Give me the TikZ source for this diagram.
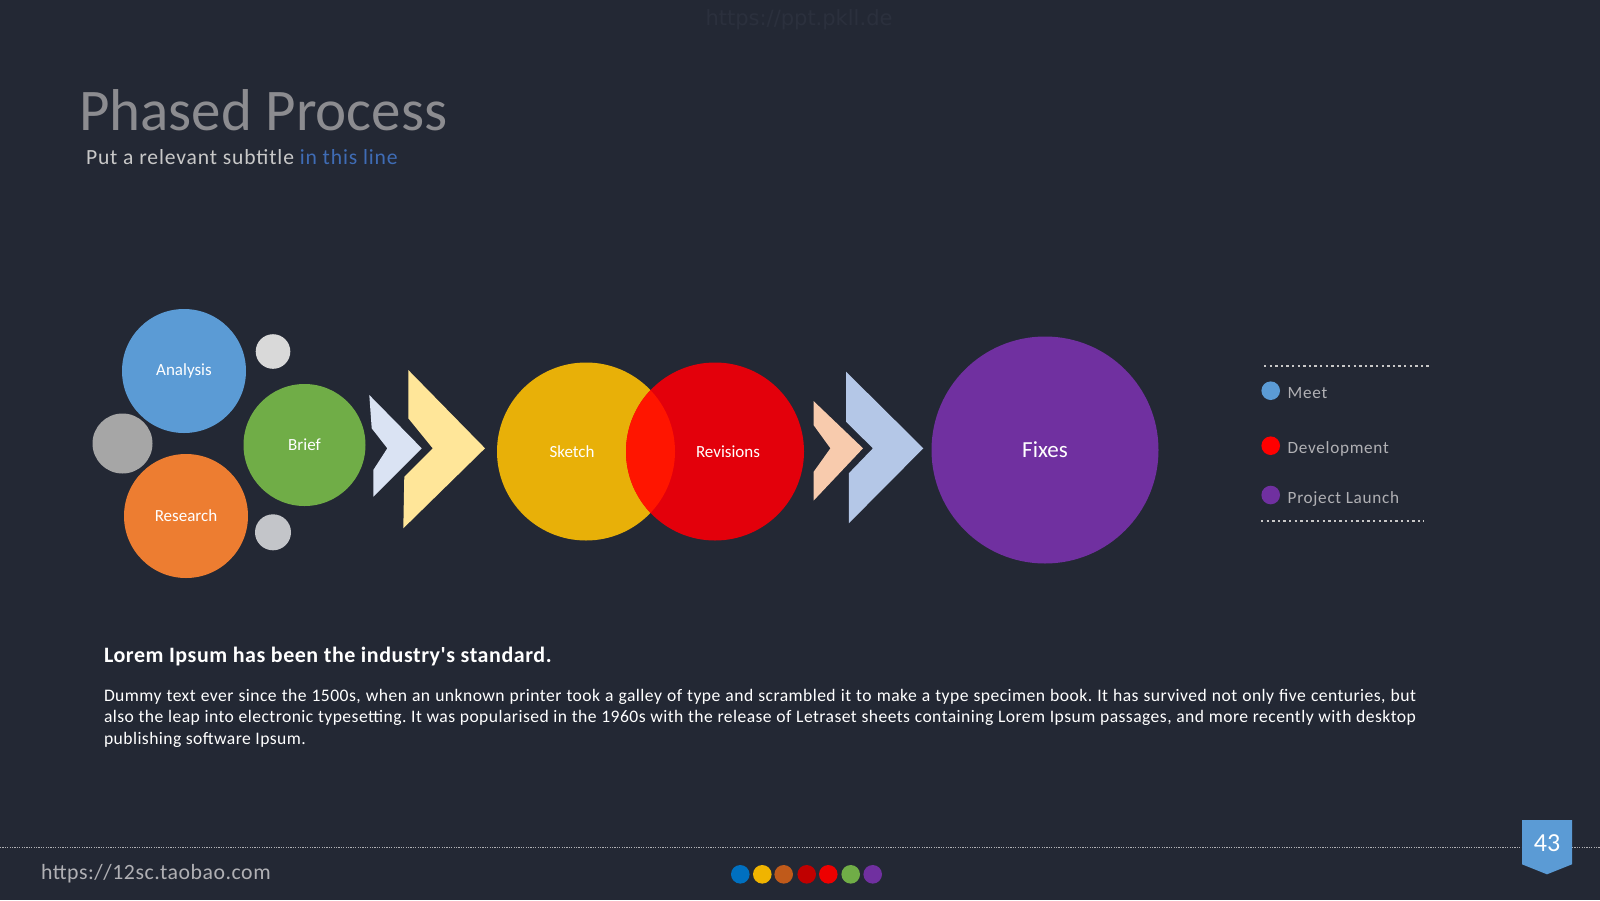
\documentclass[tikz,border=0pt]{standalone}
\usepackage{fontspec}
\setmainfont{Carlito}
\newfontfamily\wmfont{DejaVu Sans}
\newfontfamily\spacedfont[LetterSpace=4]{Carlito}
\newfontfamily\bodyfont[LetterSpace=2.5]{Carlito}
\frenchspacing
\definecolor{bg}{HTML}{232834}
\definecolor{cblue}{HTML}{5B9BD5}
\definecolor{corange}{HTML}{ED7D31}
\definecolor{cgreen}{HTML}{70AD47}
\definecolor{cgrayA}{HTML}{D9D9D9}
\definecolor{cgrayB}{HTML}{A6A6A6}
\definecolor{cgrayC}{HTML}{C3C5C9}
\definecolor{chevA}{HTML}{DAE3F3}
\definecolor{chevB}{HTML}{FFE699}
\definecolor{chevC}{HTML}{F8CBAD}
\definecolor{chevD}{HTML}{B4C7E7}
\definecolor{cyellow}{HTML}{E8B008}
\definecolor{cred}{HTML}{E3000B}
\definecolor{cover}{HTML}{FF1500}
\definecolor{cpurple}{HTML}{7030A0}
\definecolor{titlegray}{HTML}{8C8C90}
\definecolor{subgray}{HTML}{C8C8C8}
\definecolor{subblue}{HTML}{3F6CB5}
\definecolor{leggray}{HTML}{B0B0B4}
\definecolor{wmcol}{HTML}{2B303D}
\definecolor{fdA}{HTML}{0070C0}
\definecolor{fdB}{HTML}{F0B400}
\definecolor{fdC}{HTML}{C05A1A}
\definecolor{fdD}{HTML}{C00000}
\definecolor{fdE}{HTML}{EE0000}
\definecolor{fdF}{HTML}{70AD47}
\definecolor{fdG}{HTML}{7030A0}
\tikzset{
  bubble/.style={circle, inner sep=0pt, outer sep=0pt},
  bublabel/.style={text=white, font=\fontsize{8.5}{10}\selectfont},
  legdot/.style={circle, minimum size=9.3pt, inner sep=0pt},
  legtext/.style={anchor=base west, text=leggray, font=\spacedfont\fontsize{8.6}{10}\selectfont},
  legline/.style={draw=subgray, line width=1.2pt, dash pattern=on 1.2pt off 1.6pt},
  fdot/.style={circle, minimum size=9.3pt, inner sep=0pt},
  bodyline/.style={anchor=base west, text=white, font=\bodyfont\fontsize{8.8}{10}\selectfont},
}
\begin{document}
\begin{tikzpicture}[x=0.5pt,y=-0.5pt, every node/.style={inner sep=0pt, outer sep=0pt}]
\fill[bg] (0,0) rectangle (1600,900);
\useasboundingbox (0,0) rectangle (1600,900);

% watermark
\node[text=wmcol, font=\wmfont\fontsize{10.5}{12}\selectfont] (wm) at (799,20) {https://ppt.pkll.de};

% title
\node[anchor=base west, text=titlegray, font=\fontsize{29.5}{32}\selectfont] (title) at (79,130.5) {Phased Process};
\node[anchor=base west, text=subgray, font=\spacedfont\fontsize{10.8}{12}\selectfont] (subtitle) at (86,164) {Put a relevant subtitle \textcolor{subblue}{in this line}};

% left cluster
\node[bubble, fill=cblue, minimum size=62pt] (analysis) at (184,371) {};
\node[bubble, fill=corange, minimum size=62pt] (research) at (186,516) {};
\node[bubble, fill=cgreen, minimum size=61pt] (brief) at (304.5,445) {};
\node[bubble, fill=cgrayA, minimum size=17.3pt] (g1) at (273,351.5) {};
\node[bubble, fill=cgrayB, minimum size=30pt] (g2) at (122.5,443.5) {};
\node[bubble, fill=cgrayC, minimum size=18pt] (g3) at (273,532.3) {};
\node[bublabel] (analysisL) at (184,371) {Analysis};
\node[bublabel] (researchL) at (186,516) {Research};
\node[bublabel] (briefL) at (304.5,445) {Brief};

% chevrons 1
\fill[chevA] (369.3,395) -- (421.7,448.3) -- (373.3,496.7) -- (373.3,470) -- (387.3,448.3) -- (371.7,428.3) -- cycle;
\fill[chevB] (408.3,370) -- (485,448.3) -- (403.3,528.3) -- (404.3,476.7) -- (432.7,448.3) -- (408.3,418.3) -- cycle;

% sketch / revisions
\node[bubble, fill=cyellow, minimum size=89pt] (sketch) at (586,451.5) {};
\node[bubble, fill=cred, minimum size=89pt] (revisions) at (715,451.5) {};
\begin{scope}
  \clip (sketch.center) circle [radius=44.5pt];
  \fill[cover] (revisions.center) circle [radius=44.5pt];
\end{scope}
\node[bublabel, text=white] (sketchL) at (572,451.5) {Sketch};
\node[bublabel] (revisionsL) at (728,451.5) {Revisions};

% chevrons 2
\fill[chevC] (813.5,401) -- (863,448.3) -- (813.5,500.7) -- (813.5,472) -- (830.4,448.3) -- (813.5,425) -- cycle;
\fill[chevD] (846,371.7) -- (923.3,448.3) -- (848.8,523.3) -- (848.8,473.3) -- (872.9,448.3) -- (846,421.7) -- cycle;

% fixes
\node[bubble, fill=cpurple, minimum size=113.5pt] (fixes) at (1045,450) {};
\node[text=white, font=\fontsize{11.5}{13}\selectfont] (fixesL) at (1045,450) {Fixes};

% legend
\coordinate (lt1) at (1264,365.7);
\coordinate (lt2) at (1430,365.7);
\coordinate (lb1) at (1261,520.7);
\coordinate (lb2) at (1424.3,520.7);
\draw[legline] (lt1) -- (lt2);
\draw[legline] (lb1) -- (lb2);
\node[legdot, fill=cblue] (d1) at (1270.7,390.7) {};
\node[legdot, fill=red] (d2) at (1270.7,445.7) {};
\node[legdot, fill=cpurple] (d3) at (1270.7,495) {};
\node[legtext] (t1) at (1287.7,398.3) {Meet};
\node[legtext] (t2) at (1287.7,453.3) {Development};
\node[legtext] (t3) at (1287.7,503.3) {Project Launch};

% body text
\node[anchor=base west, text=white, font=\bodyfont\bfseries\fontsize{11}{12}\selectfont] (head) at (104,662) {Lorem Ipsum has been the industry{\char"0027}s standard.};
\node[bodyline] (b1) at (104,701) {\makebox[656pt][s]{Dummy text ever since the 1500s, when an unknown printer took a galley of type and scrambled it to make a type specimen book. It has survived not only five centuries, but}};
\node[bodyline] (b2) at (104,722.3) {\makebox[656pt][s]{also the leap into electronic typesetting. It was popularised in the 1960s with the release of Letraset sheets containing Lorem Ipsum passages, and more recently with desktop}};
\node[bodyline] (b3) at (104,744.8) {publishing software Ipsum.};

% footer
\coordinate (fl1) at (0,847.7);
\coordinate (fl2) at (1600,847.7);
\draw[draw=leggray, line width=0.6pt, dash pattern=on 0.6pt off 0.6pt] (fl1) -- (fl2);
\fill[cblue] (1522,820) -- (1572,820) -- (1572,864.3) -- (1547,874.3) -- (1522,864.3) -- cycle;
\node[text=white, font=\fontsize{13}{15}\selectfont] (pnum) at (1547,843.3) {43};
\node[anchor=base west, text=leggray, font=\bodyfont\fontsize{10.9}{12}\selectfont] (url) at (41,879) {https://12sc.taobao.com};
\node[fdot, fill=fdA] (f1) at (740.3,874.3) {};
\node[fdot, fill=fdB] (f2) at (762.3,874.3) {};
\node[fdot, fill=fdC] (f3) at (783.7,874.3) {};
\node[fdot, fill=fdD] (f4) at (806.7,874.3) {};
\node[fdot, fill=fdE] (f5) at (828.3,874.3) {};
\node[fdot, fill=fdF] (f6) at (850.7,874.3) {};
\node[fdot, fill=fdG] (f7) at (872.7,874.3) {};
\end{tikzpicture}
\end{document}
